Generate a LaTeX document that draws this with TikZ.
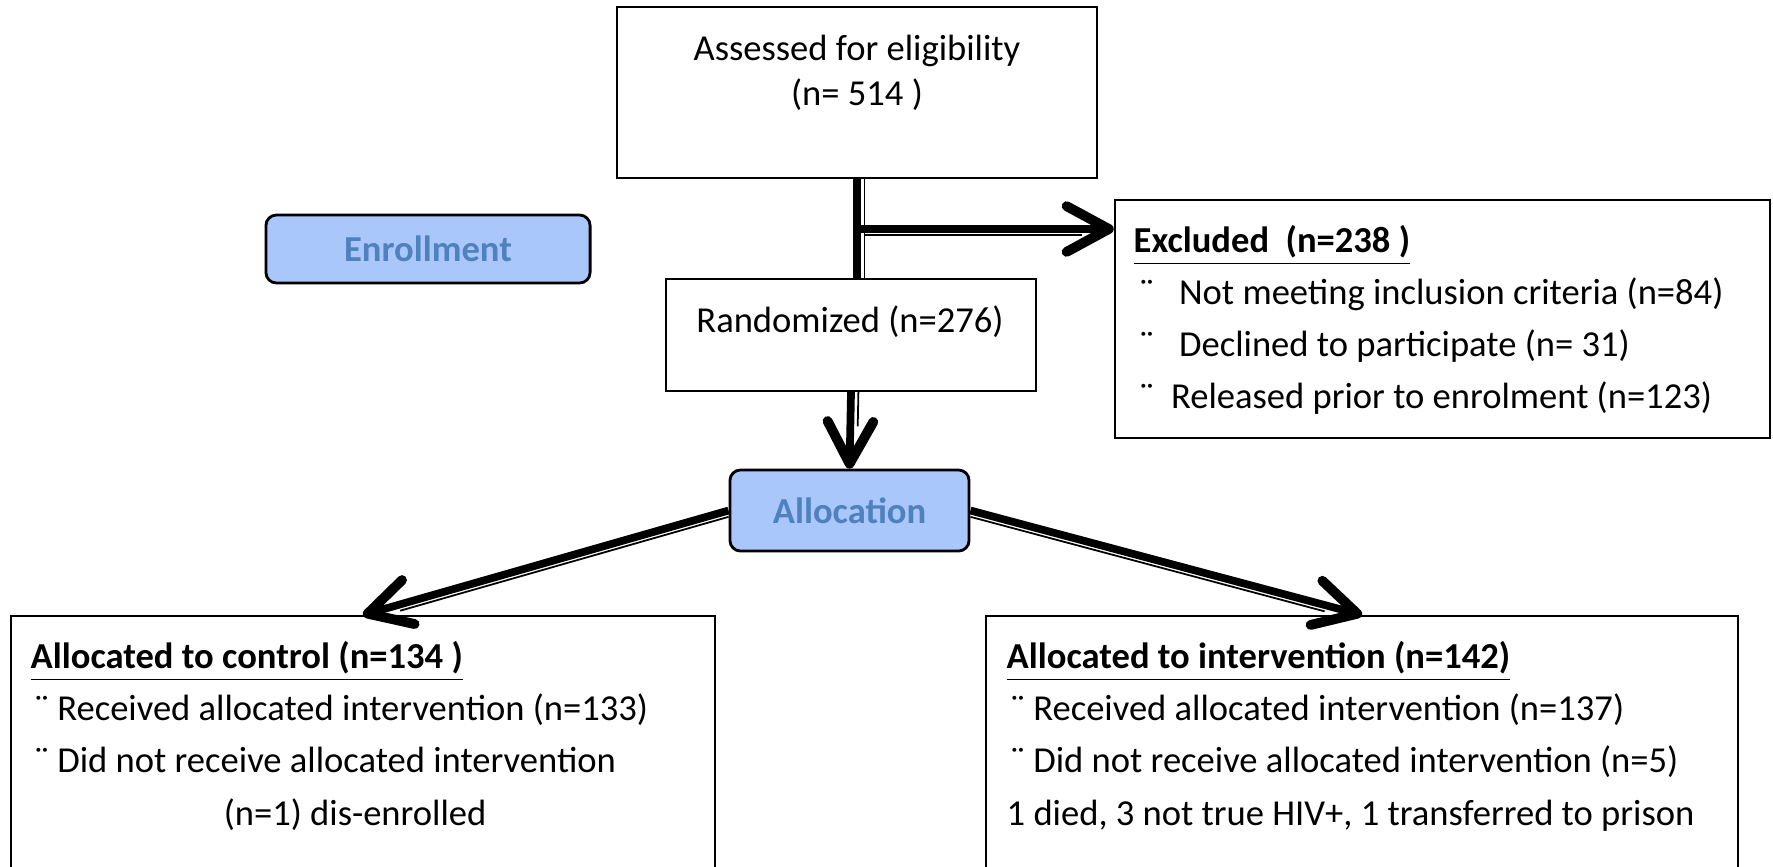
\documentclass[tikz,border=0pt]{standalone}
\usepackage{fontspec}
\setmainfont{Carlito}
\usetikzlibrary{arrows.meta}
\definecolor{phasefill}{RGB}{169,199,250}
\definecolor{phasetext}{RGB}{79,129,189}

\tikzset{
  box/.style={draw, line width=0.6pt, inner sep=0pt},
  phase/.style={draw, line width=0.8pt, rounded corners=3pt, fill=phasefill,
    text=phasetext, font=\fontsize{10.4}{12.8}\selectfont\bfseries},
  txt/.style={inner sep=0pt, align=left, anchor=north west},
  link/.style={line width=2.2pt},
  arrow/.style={link, -{Straight Barb[length=12pt, width=13pt, line width=2.8pt, round]}},
  thinlink/.style={line width=0.5pt}
}

\begin{document}
\begin{tikzpicture}[x=0.01cm, y=-0.01cm, font=\fontsize{10.4}{14.8}\selectfont]
		\useasboundingbox (0,0) rectangle (1773,866);
		\clip (0,0) rectangle (1773,866); % bottom boxes run off the page

		% boxes
		\node[box, minimum width=4.80cm, minimum height=1.71cm] (assess) at (857,92.5) {};
		\node[box, minimum width=3.70cm, minimum height=1.12cm] (rand) at (851,335) {};
		\node[box, minimum width=6.55cm, minimum height=2.38cm] (excl) at (1442.5,319) {};
		\node[box, anchor=north, minimum width=7.04cm, minimum height=2.70cm] (ctrl) at (363,615) {};
		\node[box, anchor=north, minimum width=7.52cm, minimum height=2.70cm] (intv) at (1362,615) {};
		\node[phase, minimum width=3.24cm, minimum height=0.68cm] (enrol) at (428,249) {Enrollment};
		\node[phase, minimum width=2.39cm, minimum height=0.81cm] (alloc) at (849.5,510.5) {Allocation};

		% texts
		\node[inner sep=0pt, align=center, anchor=north, font=\fontsize{10.4}{12.8}\selectfont]
			(assesstxt) at (857,34) {Assessed for eligibility\\(n= 514 )};
		\node[inner sep=0pt] (randtxt) at (850,322) {Randomized (n=276)};
		\node[txt] (excltxt) at (1133,225) {\underline{\textbf{Excluded\ \ (n=238 )}}\\
			\hspace*{0.06cm}¨\hspace{0.25cm}Not meeting inclusion criteria (n=84)\\
			\hspace*{0.06cm}¨\hspace{0.25cm}Declined to participate (n= 31)\\
			\hspace*{0.06cm}¨\hspace{0.17cm}Released prior to enrolment (n=123)};
		\node[txt] (ctrltxt) at (30,641) {\underline{\textbf{Allocated to control (n=134 )}}\\
			\hspace*{0.04cm}¨ Received allocated intervention (n=133)\\
			\hspace*{0.04cm}¨ Did not receive allocated intervention\\
			\hspace*{1.93cm}(n=1) dis-enrolled};
		\node[txt] (intvtxt) at (1006,641) {\underline{\textbf{Allocated to intervention (n=142)}}\\
			\hspace*{0.04cm}¨ Received allocated intervention (n=137)\\
			\hspace*{0.04cm}¨ Did not receive allocated intervention (n=5)\\
			1 died, 3 not true HIV+, 1 transferred to prison};

		% connectors
		\coordinate (split) at (assess.south |- 0,229);
		\draw[link] (assess.south) -- (assess.south |- rand.north);
		\draw[arrow] (split) -- (split -| excl.west);
		\draw[arrow] (rand.south) -- (alloc.north);
		\draw[arrow] (alloc.west) -- (ctrl.north);
		\draw[arrow] (alloc.east) -- (intv.north);

		% thin companion lines
		\draw[thinlink, transform canvas={xshift=2.1pt}] (assess.south) -- (assess.south |- rand.north);
		\draw[thinlink, transform canvas={yshift=-1.8pt}, shorten <=2pt, shorten >=9pt] (split) -- (split -| excl.west);
		\draw[thinlink, transform canvas={xshift=2.1pt}, shorten >=12pt] (rand.south) -- (alloc.north);
		\draw[thinlink, transform canvas={yshift=-1.8pt}, shorten >=11pt] (alloc.west) -- (ctrl.north);
		\draw[thinlink, transform canvas={yshift=-1.8pt}, shorten >=11pt] (alloc.east) -- (intv.north);
	  \end{tikzpicture}
\end{document}
